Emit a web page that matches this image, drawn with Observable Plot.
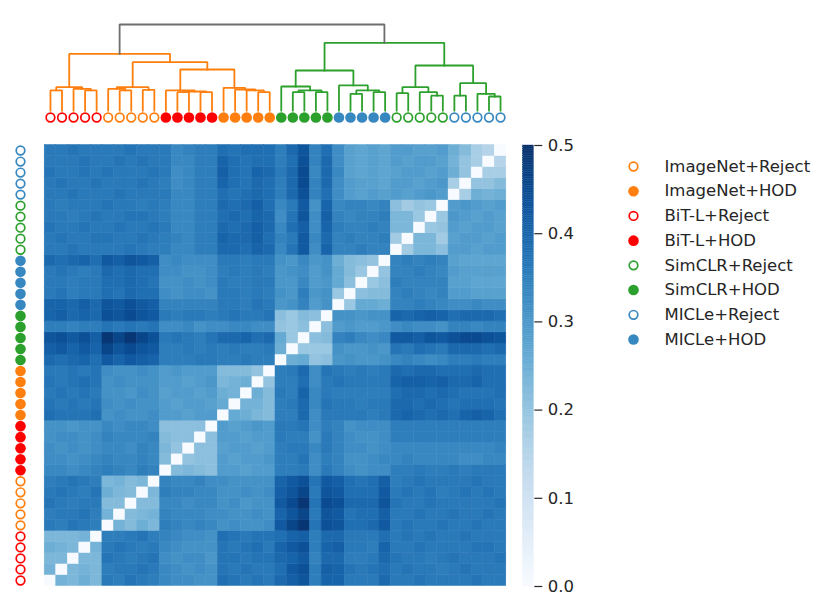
<!DOCTYPE html>
<html><head><meta charset="utf-8">
<script src="https://cdn.jsdelivr.net/npm/d3@7"></script>
<script src="https://cdn.jsdelivr.net/npm/@observablehq/plot@0.6"></script>
<style>
body{margin:0;background:#fff;}
#chart{position:relative;width:831px;height:607px;overflow:hidden;font-family:"DejaVu Sans",sans-serif;background:#fff;}
#chart svg{position:absolute;left:0;top:0;overflow:visible;background:transparent;}
</style></head><body><div id="chart"></div>
<script>
// ---------------- data ----------------
// leaf order (left→right in columns; rows are drawn in reverse order)
const leafGroups = [
  "BR","BR","BR","BR","BR","IR","IR","IR","IR","IR",
  "BH","BH","BH","BH","BH","IH","IH","IH","IH","IH",
  "SH","SH","SH","SH","SH","MH","MH","MH","MH","MH",
  "SR","SR","SR","SR","SR","MR","MR","MR","MR","MR"
];
const groupKeys   = ["IR","IH","BR","BH","SR","SH","MR","MH"]; // legend order
const groupLabels = ["ImageNet+Reject","ImageNet+HOD","BiT-L+Reject","BiT-L+HOD","SimCLR+Reject","SimCLR+HOD","MICLe+Reject","MICLe+HOD"];
const groupColors = ["#ff7f0e","#ff7f0e","#ff0000","#ff0000","#2ca02c","#2ca02c","#3787c0","#3787c0"];
const groupFilled = [false,true,false,true,false,true,false,true];

// lower triangle of the pairwise matrix (hundredths), row i holds columns 0..i-1
const distanceRows = [
  [],
  [24],
  [23,23],
  [25,24,23],
  [23,23,23,24],
  [36,35,37,36,35],
  [35,36,36,37,35,24],
  [37,36,35,36,36,22,22],
  [36,37,36,35,37,25,23,22],
  [35,36,37,36,35,23,24,22,23],
  [33,33,32,33,34,35,34,33,35,34],
  [32,32,31,32,33,34,33,33,34,33,22],
  [32,31,32,31,32,33,33,32,34,33,23,20],
  [31,32,32,31,32,34,33,33,33,34,22,21,21],
  [31,31,30,31,31,33,32,33,33,32,21,21,21,21],
  [38,37,37,37,38,31,32,31,31,32,29,29,28,29,29],
  [37,36,37,36,37,32,31,32,31,31,29,28,29,29,28,26],
  [36,37,36,37,36,31,31,30,32,31,28,29,29,28,29,25,24],
  [37,36,37,38,37,31,32,31,31,31,29,29,28,29,30,23,24,25],
  [36,36,37,36,37,32,31,31,32,31,29,30,29,29,29,22,22,22,20],
  [39,38,39,40,38,42,40,42,41,40,35,35,35,36,36,35,35,36,35,35],
  [41,42,40,42,40,46,43,45,43,42,35,35,36,35,36,35,36,35,35,36,25],
  [43,44,42,44,41,49,46,49,46,44,36,37,36,35,37,39,39,40,38,39,26,19],
  [35,35,34,35,35,37,36,37,36,37,32,32,33,31,32,32,33,33,32,32,20,19,21],
  [40,41,39,40,39,44,43,45,43,42,36,35,36,36,35,36,37,36,36,37,21,19,22,21],
  [40,40,39,41,39,43,42,44,42,41,34,34,34,34,34,36,36,35,37,36,30,31,34,29,31],
  [36,37,35,36,36,38,37,39,38,38,32,31,32,32,31,36,36,35,36,35,31,30,35,30,31,19],
  [36,36,35,36,36,38,38,39,38,37,31,31,32,31,32,36,35,35,36,36,30,30,33,29,30,26,21],
  [36,37,36,35,36,39,38,39,38,38,32,32,31,31,32,35,36,35,36,35,30,31,32,29,31,26,22,19],
  [39,38,39,40,38,42,41,43,42,41,32,33,32,32,32,36,36,35,36,36,31,30,33,30,31,25,22,21,20],
  [36,36,37,36,36,36,36,37,36,35,35,33,33,35,35,39,39,38,40,39,33,37,42,32,40,34,34,35,34,34],
  [36,37,36,36,37,37,36,36,37,36,35,34,33,35,35,40,39,39,41,38,34,36,42,33,39,34,35,34,34,35,18],
  [37,36,36,37,36,36,37,36,36,37,36,33,33,35,35,39,38,39,41,39,33,38,41,32,40,35,34,34,35,34,23,23],
  [36,36,35,36,37,36,36,37,37,36,35,33,33,35,35,38,39,38,40,39,32,37,43,32,41,34,33,34,34,35,23,23,19],
  [36,35,36,36,36,37,36,36,35,36,35,33,33,35,35,39,38,39,41,38,33,36,42,31,40,33,34,34,33,34,21,18,20,19],
  [36,36,37,36,36,36,37,36,36,36,36,33,33,35,35,38,37,38,39,38,35,39,44,34,38,32,29,28,29,28,29,28,29,30,29],
  [36,37,36,36,37,36,36,36,37,36,35,32,33,35,35,40,38,37,39,38,35,39,45,34,39,32,29,28,28,27,29,29,28,29,30,17],
  [37,36,36,37,36,37,36,36,36,37,36,32,33,35,35,41,38,37,40,39,36,39,45,33,39,33,28,27,28,27,28,29,29,28,29,25,20],
  [36,36,36,37,36,36,37,36,37,36,36,33,33,35,35,40,38,37,38,38,35,38,44,34,39,32,28,27,28,27,29,28,29,29,28,24,20,17],
  [36,36,37,36,36,36,36,37,36,36,36,33,34,35,35,38,37,38,38,38,35,39,43,34,38,32,28,27,28,27,29,29,28,28,29,25,22,17,15]
];

// dendrogram merges: [childA, childB, height]; new nodes numbered from 40
const linkage = [
  [0,1,0.233],[3,4,0.233],[2,41,0.252],[40,42,0.271],
  [6,7,0.233],[5,44,0.252],[8,9,0.240],[45,46,0.271],
  [11,12,0.213],[13,14,0.213],[48,49,0.221],[10,50,0.233],
  [18,19,0.213],[17,52,0.233],[16,53,0.244],[15,54,0.264],
  [51,55,0.477],[47,56,0.562],[43,57,0.659],
  [21,22,0.213],[23,24,0.213],[59,60,0.233],[20,61,0.279],
  [26,27,0.194],[28,29,0.213],[63,64,0.233],[25,65,0.291],
  [62,66,0.465],
  [30,31,0.202],[33,34,0.174],[32,69,0.213],[68,70,0.271],
  [35,36,0.174],[38,39,0.163],[37,73,0.194],[72,74,0.318],
  [71,75,0.523],[67,76,0.787],[58,77,1.0]
];
const colorTicks = [0, 0.1, 0.2, 0.3, 0.4, 0.5];

// ---------------- layout ----------------
const W = 831, H = 607;
const HM = {left: 44.2, right: 505.8, top: 144.5, bottom: 585.5};
const FONT = "DejaVu Sans";
const TXT = "#262626";
const n = leafGroups.length;
const order = d3.range(n);
const styleOf = k => { const g = groupKeys.indexOf(k); return {color: groupColors[g], filled: groupFilled[g], label: groupLabels[g]}; };

// matrix cells
const cells = [];
for (let i = 0; i < n; i++) for (let j = 0; j < n; j++) {
  let v = 0;
  if (i > j) v = distanceRows[i][j] / 100;
  else if (j > i) v = distanceRows[j][i] / 100;
  cells.push({row: i, col: j, v});
}

const chart = document.getElementById("chart");
const add = svg => { chart.appendChild(svg); };

// heatmap
add(Plot.plot({
  width: W, height: H,
  marginLeft: HM.left, marginRight: W - HM.right, marginTop: HM.top, marginBottom: H - HM.bottom,
  x: {type: "band", domain: order, padding: 0, round: false, axis: null},
  y: {type: "band", domain: order.slice().reverse(), padding: 0, round: false, axis: null},
  color: {type: "linear", scheme: "blues", domain: [0, 0.5]},
  marks: [Plot.cell(cells, {x: "col", y: "row", fill: "v", stroke: "v", strokeWidth: 0.5})]
}));

// dendrogram
const nodeX = order.slice(), nodeH = order.map(() => 0), nodeLeaf = order.slice();
const dendroPts = [];
linkage.forEach(([a, b, h], m) => {
  const id = n + m;
  nodeX[id] = (nodeX[a] + nodeX[b]) / 2; nodeH[id] = h; nodeLeaf[id] = nodeLeaf[a];
  const isRoot = m === linkage.length - 1;
  const color = isRoot ? "#6e6e6e" : (nodeLeaf[a] < 20 ? "#ff7f0e" : "#2ca02c");
  dendroPts.push({id, x: nodeX[a], h: nodeH[a], color}, {id, x: nodeX[a], h, color},
                 {id, x: nodeX[b], h, color}, {id, x: nodeX[b], h: nodeH[b], color});
});
add(Plot.plot({
  width: W, height: H,
  marginLeft: HM.left, marginRight: W - HM.right, marginTop: 24, marginBottom: H - 110,
  x: {type: "linear", domain: [-0.5, n - 0.5], axis: null},
  y: {type: "linear", domain: [0, 1], axis: null},
  color: {type: "identity"},
  marks: [Plot.line(dendroPts, {x: "x", y: "h", z: "id", stroke: "color", strokeWidth: 1.8, strokeLinejoin: "miter", strokeLinecap: "square"})]
}));

// marker helper
const leaves = order.map(k => ({k, ...styleOf(leafGroups[k])}));
const openL = leaves.filter(d => !d.filled), fillL = leaves.filter(d => d.filled);

// top markers
add(Plot.plot({
  width: W, height: H,
  marginLeft: HM.left, marginRight: W - HM.right, marginTop: 112, marginBottom: H - 122,
  x: {type: "point", domain: order, padding: 0.5, round: false, axis: null},
  color: {type: "identity"},
  marks: [
    Plot.dotX(openL, {x: "k", r: 4.3, fill: "white", stroke: "color", strokeWidth: 1.7}),
    Plot.dotX(fillL, {x: "k", r: 5.3, fill: "color", stroke: "none"})
  ]
}));

// left markers
add(Plot.plot({
  width: W, height: H,
  marginLeft: 15, marginRight: W - 25, marginTop: HM.top, marginBottom: H - HM.bottom,
  y: {type: "point", domain: order.slice().reverse(), padding: 0.5, round: false, axis: null},
  color: {type: "identity"},
  marks: [
    Plot.dotY(openL, {y: "k", r: 4.3, fill: "white", stroke: "color", strokeWidth: 1.7}),
    Plot.dotY(fillL, {y: "k", r: 5.3, fill: "color", stroke: "none"})
  ]
}));

// colorbar
const step = 0.002;
const stops = d3.range(0, 0.5, step);
add(Plot.plot({
  width: W, height: H,
  marginLeft: 522.7, marginRight: W - 533.3, marginTop: 145, marginBottom: H - 586,
  x: {type: "linear", domain: [0, 1], axis: null},
  y: {type: "linear", domain: [0, 0.5]},
  color: {type: "linear", scheme: "blues", domain: [0, 0.5]},
  style: {fontFamily: FONT, fontSize: "16.5px", color: TXT},
  marks: [
    Plot.rect(stops, {x1: () => 0, x2: () => 1, y1: d => d, y2: d => Math.min(0.5, d + step), fill: d => d + step / 2, stroke: d => d + step / 2, strokeWidth: 0.4}),
    Plot.axisY({anchor: "right", ticks: colorTicks, tickFormat: d3.format(".1f"), tickSize: 8, tickPadding: 6, fontSize: 16.5, label: null, stroke: TXT, strokeWidth: 1.2})
  ]
}));

// legend
const legendItems = groupKeys.map((k, g) => ({k, label: groupLabels[g], color: groupColors[g], filled: groupFilled[g]}));
add(Plot.plot({
  width: W, height: H,
  marginLeft: 628, marginRight: W - 638, marginTop: 166, marginBottom: H - 339,
  y: {type: "point", domain: groupKeys, padding: 0, round: false, axis: null},
  color: {type: "identity"},
  style: {fontFamily: FONT, color: TXT},
  marks: [
    Plot.dotY(legendItems.filter(d => !d.filled), {y: "k", r: 4.3, fill: "white", stroke: "color", strokeWidth: 1.7}),
    Plot.dotY(legendItems.filter(d => d.filled), {y: "k", r: 5.3, fill: "color", stroke: "none"}),
    Plot.text(legendItems, {y: "k", text: "label", textAnchor: "start", dx: 31, fontSize: 16.5, fill: TXT})
  ]
}));
</script></body></html>
